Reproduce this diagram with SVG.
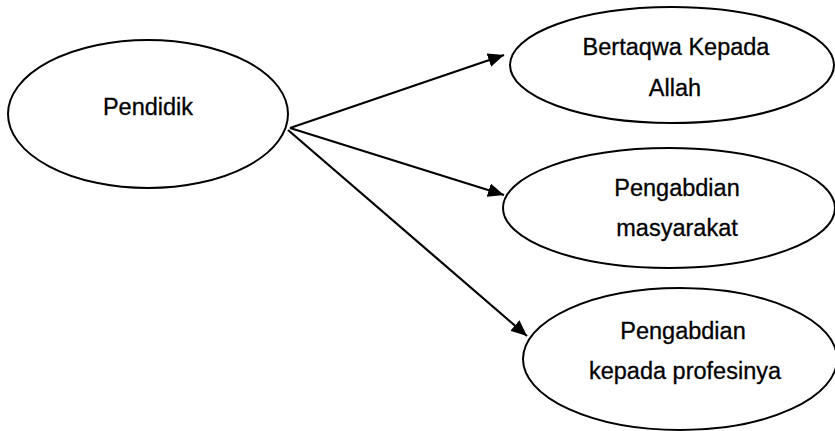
<svg xmlns="http://www.w3.org/2000/svg" width="835" height="431" viewBox="0 0 835 431">
<defs>
<marker id="arr" markerWidth="18" markerHeight="14" refX="16" refY="7" orient="auto" markerUnits="userSpaceOnUse">
<path d="M0,0 L16,7 L0,14 Z" fill="#000"/>
</marker>
<style>
.node ellipse{fill:#fff;stroke:#000;stroke-width:2}
.node text{font-family:"Liberation Sans",Arial,sans-serif;font-size:23.5px;fill:#000;stroke:#000;stroke-width:0.3;text-anchor:middle}
.edge{stroke:#000;stroke-width:2.2;fill:none;marker-end:url(#arr)}
</style>
</defs>
<rect width="835" height="431" fill="#fff"/>
<g id="connectors">
<line class="edge" x1="290" y1="128" x2="504" y2="55"/>
<line class="edge" x1="290" y1="128" x2="504" y2="195"/>
<line class="edge" x1="288" y1="130" x2="527" y2="336"/>
</g>
<g id="pendidik" class="node">
<ellipse cx="148" cy="114" rx="140" ry="74"/>
<text x="148" y="115">Pendidik</text>
</g>
<g id="bertaqwa" class="node">
<ellipse cx="672" cy="65" rx="162" ry="58"/>
<text x="676" y="55">Bertaqwa Kepada</text>
<text x="675" y="96">Allah</text>
</g>
<g id="masyarakat" class="node">
<ellipse cx="669" cy="208" rx="166" ry="60"/>
<text x="677" y="196">Pengabdian</text>
<text x="677" y="236">masyarakat</text>
</g>
<g id="profesi" class="node">
<ellipse cx="680" cy="359" rx="157" ry="71"/>
<text x="683" y="339">Pengabdian</text>
<text x="685" y="379">kepada profesinya</text>
</g>
</svg>
